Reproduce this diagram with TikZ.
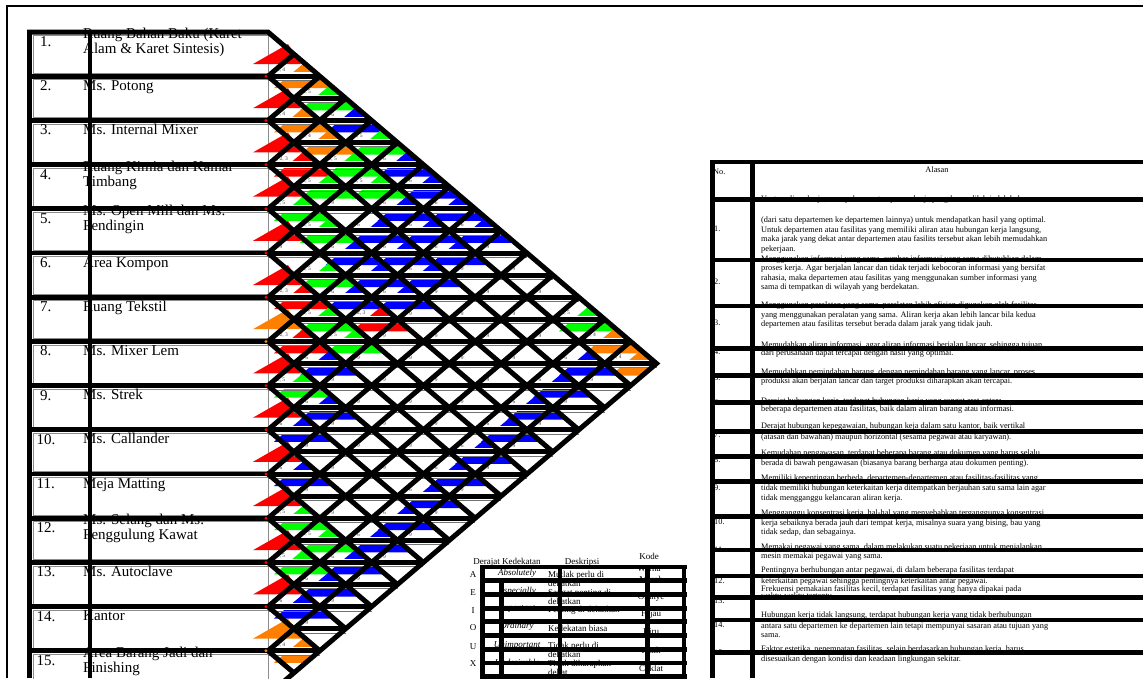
\documentclass[tikz,border=0pt]{standalone}
\usepackage{fontspec}
\setmainfont{Liberation Serif}
\usepackage{xcolor}
\usepackage{tikz}
\usetikzlibrary{positioning}

\definecolor{arcred}{RGB}{255,0,0}
\definecolor{arcorange}{RGB}{255,128,0}
\definecolor{arcgreen}{RGB}{0,255,0}
\definecolor{arcblue}{RGB}{0,0,255}
\def\labA{1, 2, 3}
\def\labE{2, 4}
\def\labI{2, 5}
\def\labO{6}
\def\labU{9}

\begin{document}
\begin{tikzpicture}[
  x=1pt, y=-1pt,
  rowname/.style={anchor=base west, inner sep=0pt, font=\fontsize{15}{17}\selectfont},
  reason/.style={anchor=base west, inner sep=0pt, font=\fontsize{8.3}{9.6}\selectfont},
  legtext/.style={inner sep=0pt, font=\fontsize{9}{10}\selectfont},
  cellnum/.style={inner sep=0pt, font=\fontsize{5.5}{6}\selectfont, text=black!75},
  tablebar/.style={line width=4.8pt},
  arcline/.style={line width=5pt},
  halo/.style={white, line width=7.5pt},
  codeA/.style={fill=arcred},
  codeE/.style={fill=arcorange},
  codeI/.style={fill=arcgreen},
  codeO/.style={fill=arcblue},
  codeU/.style={}
]
\useasboundingbox (0,0) rectangle (1143,678);
\clip (0,0) rectangle (1143,678);

\draw[line width=1.8pt] (7,678) -- (7,6) -- (1143,6);

\foreach \i in {1,...,15} {
  \pgfmathsetmacro\t{32+44.2*(\i-1)}
  \draw[black!45, line width=0.8pt] (33,\t+3.5) rectangle (268,\t+41.5);
}

\foreach \i/\nm in {2/{Ms. Potong}, 3/{Ms. Internal Mixer}, 6/{Area Kompon}, 7/{Ruang Tekstil},
    8/{Ms. Mixer Lem}, 9/{Ms. Strek}, 10/{Ms. Callander}, 11/{Meja Matting}, 13/{Ms. Autoclave}, 14/{Kantor}}
  \node[rowname] (name\i) at (83,{32+44.2*(\i-1)+14}) {\nm};
\foreach \i/\la/\lb in {1/{Ruang Bahan Baku (Karet}/{Alam \& Karet Sintesis)},
    4/{Ruang Kimia dan Kamar}/{Timbang}, 5/{Ms. Open Mill dan Ms.}/{Pendingin},
    12/{Ms. Selang dan Ms.}/{Penggulung Kawat}, 15/{Area Barang Jadi dan}/{Finishing}} {
  \node[rowname] (name\i) at (83,{32+44.2*(\i-1)+6.5}) {\la};
  \node[rowname] (sub\i) at (83,{32+44.2*(\i-1)+21.5}) {\lb};
}
\foreach \i in {1,...,15} {
  \pgfmathsetmacro\nx{\i<10 ? 40 : 36.5}
  \node[rowname] (num\i) at (\nx,{32+44.2*(\i-1)+14.5}) {\i.};
}

\foreach \i/\c in {1/A,2/A,3/A,4/A,5/A,6/A,7/E,8/A,9/A,10/A,11/A,12/A,13/A,14/E} {
  \pgfmathsetmacro\t{32+44.2*(\i-1)}
  \path[code\c] (253,\t+32) -- (288,\t+12) -- (301,\t+32) -- cycle;
}

\begin{scope}
\clip (268,32) -- (656.5,363.5) -- (268,695) -- cycle;
\foreach \rowcodes [count=\i] in {
    {E,I,O,I,O,O,O,O,U,U,U,I,E,E},
    {E,E,I,I,O,O,O,U,U,U,U,O,U},
    {A,I,U,O,O,O,U,U,U,U,O,U},
    {I,I,O,O,O,U,U,U,U,O,U},
    {U,I,O,A,U,U,U,U,O,U},
    {A,I,I,U,U,U,U,O,U},
    {A,O,U,U,U,U,O,U},
    {I,O,U,U,U,O,U},
    {O,U,U,U,O,U},
    {O,U,U,O,U},
    {I,I,O,U},
    {I,O,U},
    {O,U},
    {E}} {
  \foreach \c [count=\k] in \rowcodes {
    \pgfmathsetmacro\cx{268+25.9*\k}
    \pgfmathsetmacro\cy{32+22.1*(2*\i+\k-1)}
    \path[code\c] (\cx-20,\cy+12) -- (\cx+10,\cy-13) -- (\cx+40,\cy+12) -- cycle;
    \node[cellnum] (n\i-\k) at (\cx-13,\cy-6) {\csname lab\c\endcsname};
  }
}
\end{scope}

\foreach \m in {2,...,28} {
  \pgfmathsetmacro\yy{32+22.1*\m}
  \pgfmathsetmacro\xl{iseven(\m) ? 268 : 293.9}
  \pgfmathsetmacro\xr{268+25.9*min(\m,30-\m)}
  \draw[halo] (\xl,\yy) -- (\xr,\yy);
  \draw[black!55, line width=0.7pt] (\xl,\yy+4.3) -- (\xr,\yy+4.3);
  \draw[arcline] (\xl,\yy) -- (\xr,\yy);
}
\foreach \k in {1,...,14} {
  \draw[arcline] (268,{32+44.2*\k}) -- ({268+25.9*(15-\k)},{32+22.1*(15+\k)});
  \draw[arcline] (268,{32+44.2*\k}) -- ({268+25.9*\k},{32+22.1*\k});
}
\draw[arcline, line join=miter] (27,32) -- (268,32) -- (656.5,363.5) -- (268,695);

\foreach \k in {1,...,14}
  \draw[tablebar] (27,{32+44.2*\k}) -- (268,{32+44.2*\k});
\draw[tablebar] (29.5,29.7) -- (29.5,678);
\draw[tablebar] (90,29.7) -- (90,678);
\foreach \k/\col in {1/arcred,2/arcred,3/arcred,4/arcred,5/arcred,6/arcred,7/arcorange,
    8/arcred,9/arcred,10/arcred,11/arcred,12/arcred,13/arcred,14/arcorange}
  \fill[\col] (266,{32+44.2*\k}) circle (1.6pt);

\node[reason] (hdNo) at (713,174) {No.};
\node[reason, anchor=base] (hdReason) at (937,172.5) {Alasan};
\foreach \yy/\txt [count=\n] in {
    201.5/{Urutan aliran kerja, merupakan urutan proses kerja yang harus dilalui oleh bahan},
    222.3/{(dari satu departemen ke departemen lainnya) untuk mendapatkan hasil yang optimal.},
    232.3/{Untuk departemen atau fasilitas yang memiliki aliran atau hubungan kerja langsung,},
    241.8/{maka jarak yang dekat antar departemen atau fasilits tersebut akan lebih memudahkan},
    251.3/{pekerjaan.},
    261.8/{Menggunakan informasi yang sama, sumber informasi yang sama dibutuhkan dalam},
    270.8/{proses kerja. Agar berjalan lancar dan tidak terjadi kebocoran informasi yang bersifat},
    280.6/{rahasia, maka departemen atau fasilitas yang menggunakan sumber informasi yang},
    289.6/{sama di tempatkan di wilayah yang berdekatan.},
    307.8/{Menggunakan peralatan yang sama, peralatan lebih efisien digunakan oleh fasilitas},
    317.5/{yang menggunakan peralatan yang sama. Aliran kerja akan lebih lancar bila kedua},
    326.5/{departemen atau fasilitas tersebut berada dalam jarak yang tidak jauh.},
    347.3/{Memudahkan aliran informasi, agar aliran informasi berjalan lancar, sehingga tujuan},
    355.8/{dari perusahaan dapat tercapai dengan hasil yang optimal.},
    374.6/{Memudahkan pemindahan barang, dengan pemindahan barang yang lancar, proses},
    383.2/{produksi akan berjalan lancar dan target produksi diharapkan akan tercapai.},
    403/{Derajat hubungan kerja, terdapat hubungan kerja yang sangat erat antara},
    411.8/{beberapa departemen atau fasilitas, baik dalam aliran barang atau informasi.},
    428.3/{Derajat hubungan kepegawaian, hubungan keja dalam satu kantor, baik vertikal},
    439.2/{(atasan dan bawahan) maupun horizontal (sesama pegawai atau karyawan).},
    455.6/{Kemudahan pengawasan, terdapat beberapa barang atau dokumen yang harus selalu},
    465.6/{berada di bawah pengawasan (biasanya barang berharga atau dokumen penting).},
    480.6/{Memiliki kepentingan berbeda, departemen-departemen atau fasilitas-fasilitas yang},
    490.8/{tidak memiliki hubungan keterkaitan kerja ditempatkan berjauhan satu sama lain agar},
    500.6/{tidak mengganggu kelancaran aliran kerja.},
    515.6/{Mengganggu konsentrasi kerja, hal-hal yang menyebabkan terganggunya konsentrasi},
    525.2/{kerja sebaiknya berada jauh dari tempat kerja, misalnya suara yang bising, bau yang},
    534/{tidak sedap, dan sebagainya.},
    549/{Memakai pegawai yang sama, dalam melakukan suatu pekerjaan untuk menjalankan},
    558.5/{mesin memakai pegawai yang sama.},
    572.3/{Pentingnya berhubungan antar pegawai, di dalam beberapa fasilitas terdapat},
    583.2/{keterkaitan pegawai sehingga pentingnya keterkaitan antar pegawai.},
    591.6/{Frekuensi pemakaian fasilitas kecil, terdapat fasilitas yang hanya dipakai pada},
    598.8/{waktu-waktu tertentu.},
    617.3/{Hubungan kerja tidak langsung, terdapat hubungan kerja yang tidak berhubungan},
    628.2/{antara satu departemen ke departemen lain tetapi mempunyai sasaran atau tujuan yang},
    637.3/{sama.},
    651.6/{Faktor estetika, penempatan fasilitas, selain berdasarkan hubungan kerja, harus},
    661.8/{disesuaikan dengan kondisi dan keadaan lingkungan sekitar.}}
  \node[reason] (line\n) at (761,\yy) {\txt};
\foreach \yy [count=\n] in {231.5,284,325.5,354,380.5,405.5,437.5,462.5,490.5,524,552.5,583,603.5,627.5,655.5}
  \node[reason] (no\n) at (714,\yy) {\n.};
\foreach \yy in {162,199.3,260,306,348.3,375.7,402.7,431.7,456.7,481.7,516.7,550,576,597.8,620,652.3}
  \draw[tablebar] (710,\yy) -- (1143,\yy);
\draw[tablebar] (712.5,159.7) -- (712.5,678);
\draw[tablebar] (752.5,159.7) -- (752.5,678);

\node[legtext] (hdGrade) at (507,562.5) {Derajat Kedekatan};
\node[legtext] (hdDesc) at (582,562.5) {Deskripsi};
\node[legtext] (hdCode) at (649,556.5) {Kode};
\node[legtext] (hdColour) at (649,569) {Warna};
\foreach \yy/\cd/\en/\ds/\dsb/\kw [count=\r] in {
    575/A/Absolutely/{Mutlak perlu di}/dekatkan/Merah,
    593/E/Especially/{Sangat penting di}/dekatkan/Oranye,
    610.5/I/Important/{Penting di dekatkan}/{}/Hijau,
    628/O/Ordinary/{Kedekatan biasa}/{}/Biru,
    646.5/U/Unimportant/{Tidak perlu di}/dekatkan/Putih,
    664/X/Undesirable/{Tidak diharapkan}/dekat/Coklat} {
  \node[legtext] (cd\r) at (473,\yy) {\cd};
  \node[legtext, font=\fontsize{9}{10}\selectfont\itshape] (en\r) at (517,\yy-1.5) {\en};
  \node[legtext, anchor=west] (ds\r) at (548,\yy) {\ds};
  \node[legtext, anchor=west] (dsb\r) at (548,\yy+8) {\dsb};
  \node[legtext] (kw\r) at (651,\yy+4) {\kw};
}
\foreach \yy in {567,580.7,594.4,608.1,621.8,635.5,649.2,662.9,676.6}
  \draw[tablebar] (480,\yy) -- (686.5,\yy);
\draw[tablebar] (482.5,564.7) -- (482.5,678);
\draw[tablebar] (501.7,580.7) -- (501.7,678);
\draw[tablebar] (560,564.7) -- (560,678);
\draw[tablebar] (647.5,564.7) -- (647.5,678);
\draw[tablebar] (684,564.7) -- (684,678);
\end{tikzpicture}
\end{document}
